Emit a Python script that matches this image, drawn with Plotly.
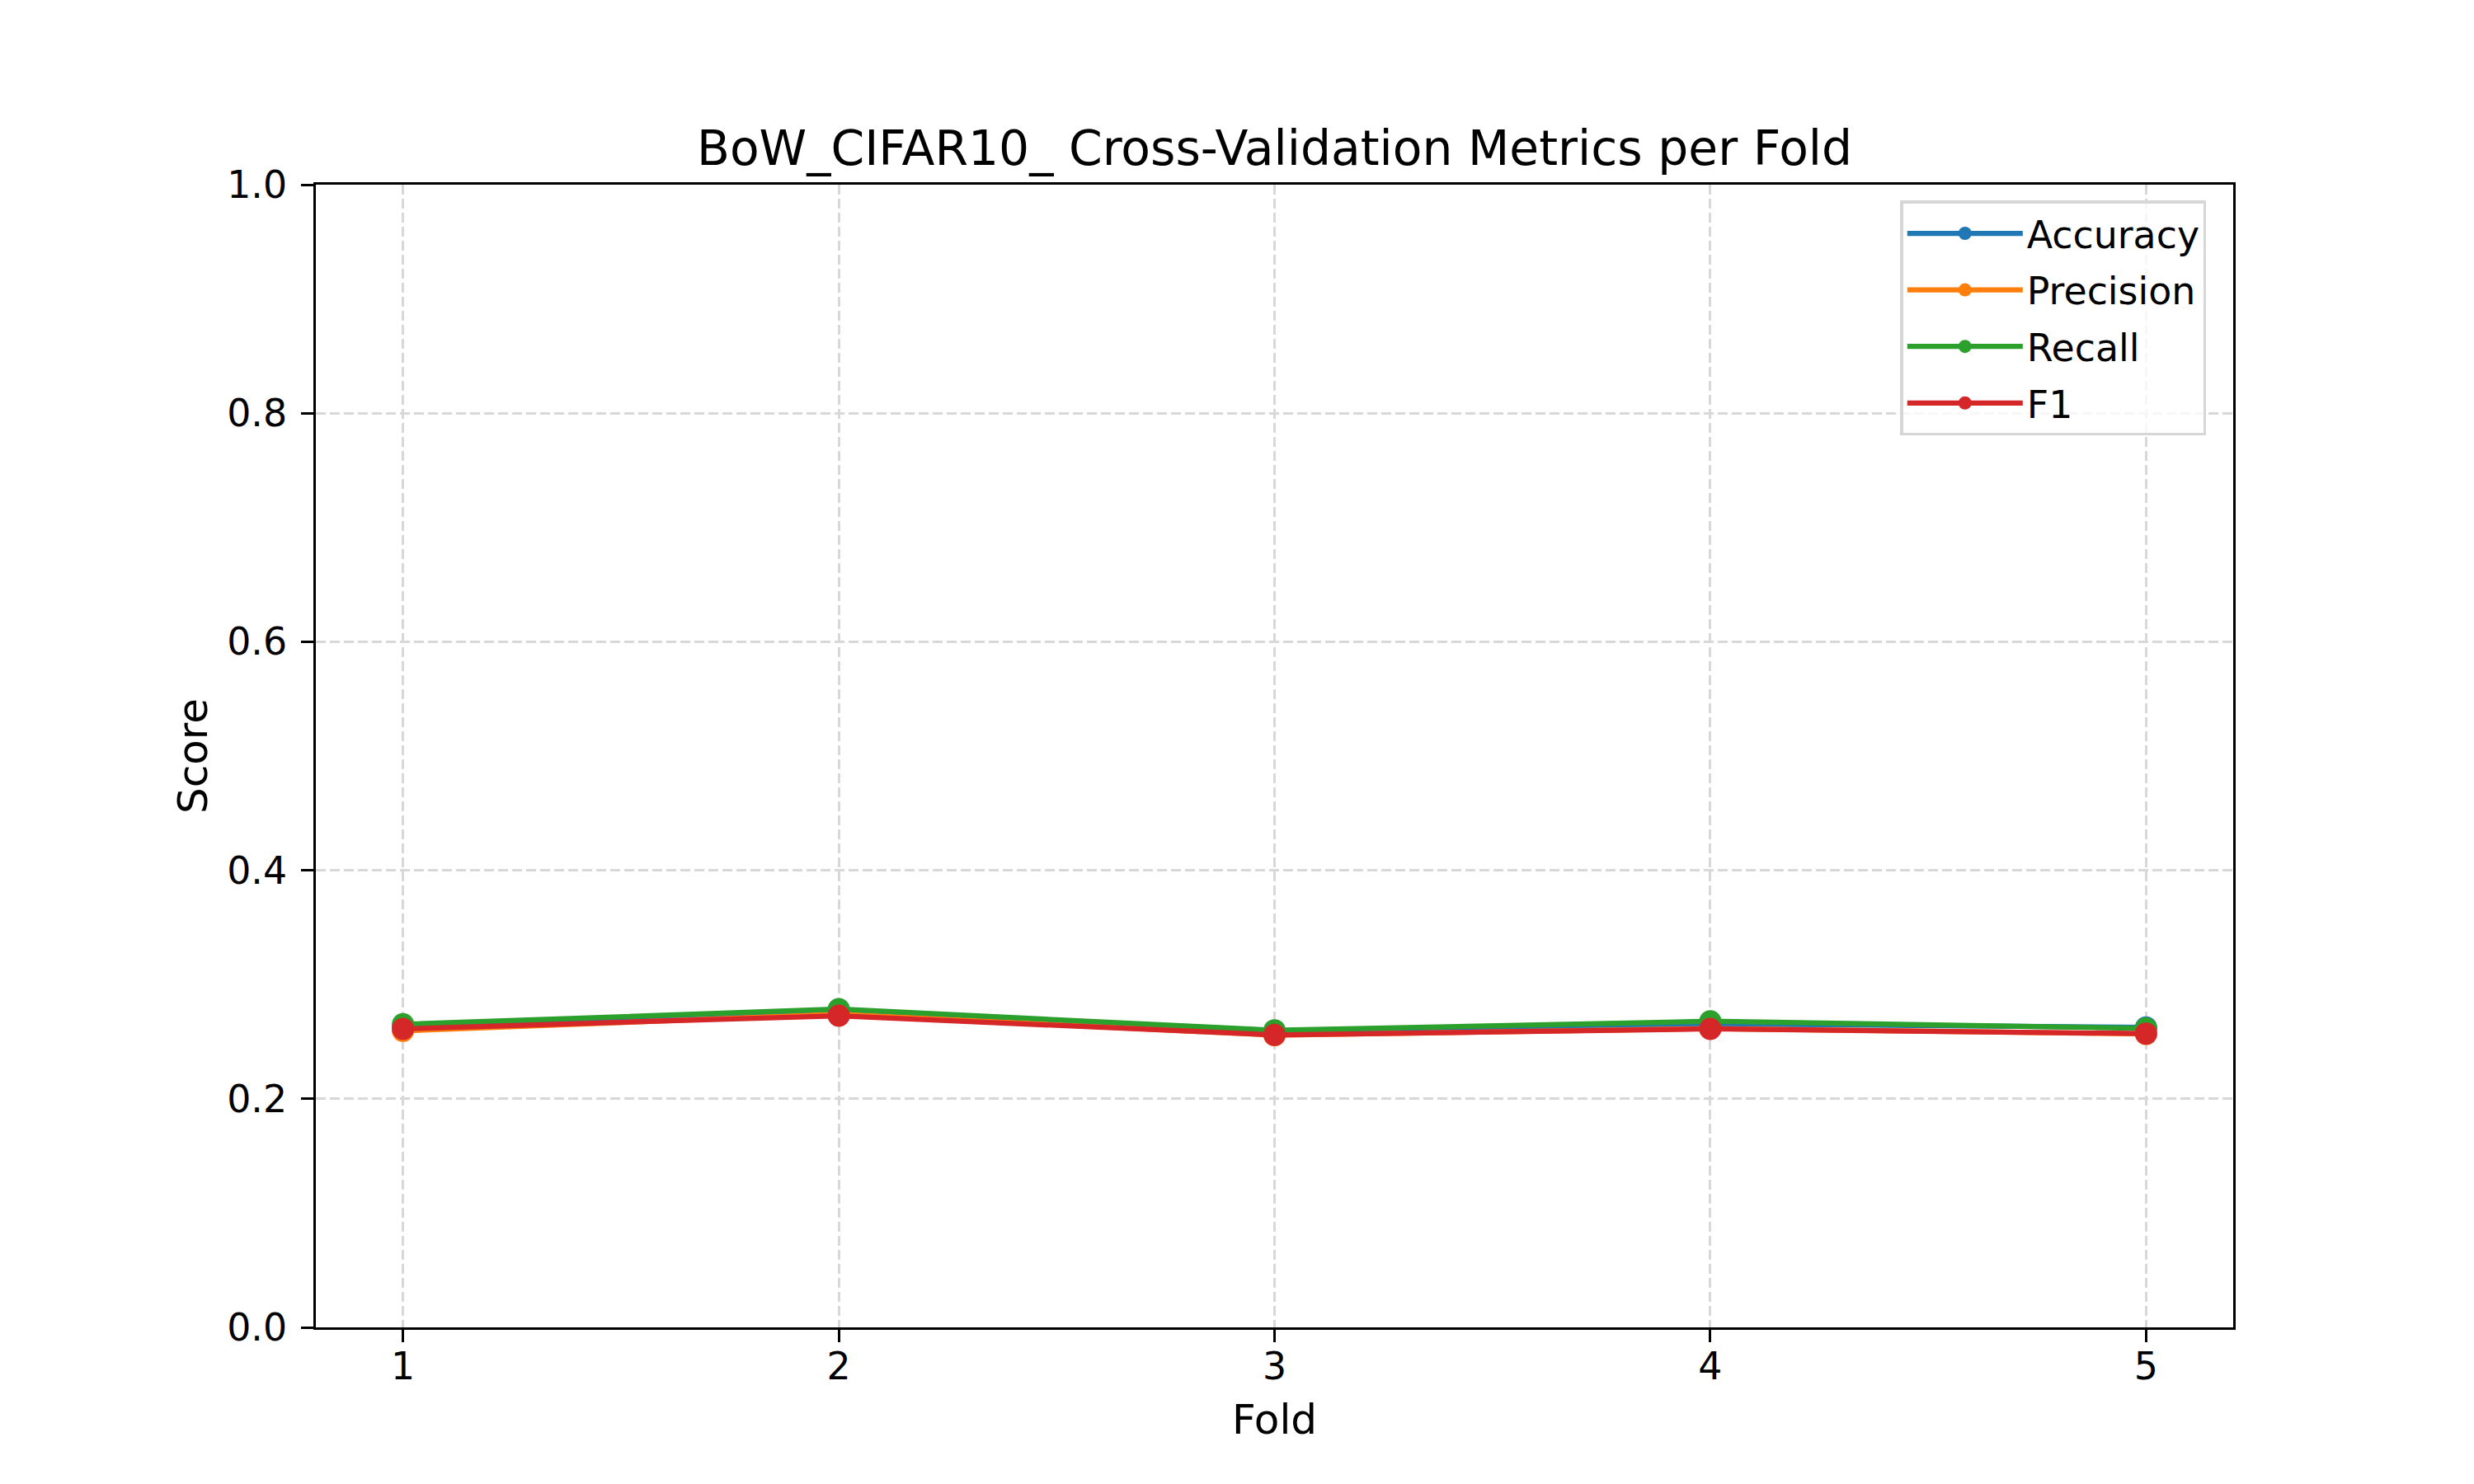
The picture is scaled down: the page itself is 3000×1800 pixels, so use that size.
import plotly.graph_objects as go

# fold scores
folds = [1, 2, 3, 4, 5]
accuracy = [0.263, 0.276, 0.258, 0.2655, 0.2625]
precision = [0.2595, 0.274, 0.2557, 0.2615, 0.2568]
recall = [0.2653, 0.2785, 0.260, 0.2679, 0.2617]
f1 = [0.2612, 0.2727, 0.2559, 0.2612, 0.2571]

metric_names = ["Accuracy", "Precision", "Recall", "F1"]
metric_colors = ["#1f77b4", "#ff7f0e", "#2ca02c", "#d62728"]

FONT = "DejaVu Sans"
PT = 300 / 72  # matplotlib points -> pixels at 300 dpi

fig = go.Figure()
for name, vals, col in zip(metric_names, [accuracy, precision, recall, f1], metric_colors):
    fig.add_trace(go.Scatter(
        x=folds, y=vals, name=name, mode="lines+markers",
        legendgroup=name,
        line=dict(color=col, width=1.5 * PT),
        marker=dict(color=col, size=27),
    ))

axis_common = dict(
    showline=True, mirror=True, linecolor="black", linewidth=0.8 * PT,
    ticks="outside", ticklen=3.5 * PT, tickwidth=0.8 * PT, tickcolor="black",
    tickfont=dict(family=FONT, size=11 * PT, color="black"),
    showgrid=True, gridcolor="#d8d8d8", gridwidth=0.8 * PT, griddash="12px,5px",
    zeroline=False,
)

fig.update_xaxes(
    range=[0.8, 5.2], tickvals=folds, ticklabelstandoff=-10,
    title=dict(text="Fold", font=dict(family=FONT, size=12 * PT, color="black"), standoff=22),
    **axis_common,
)
fig.update_yaxes(
    range=[0, 1], tick0=0, dtick=0.2, tickformat=".1f", ticklabelstandoff=8,
    title=dict(text="Score", font=dict(family=FONT, size=12 * PT, color="black"), standoff=8),
    **axis_common,
)

fig.update_layout(
    width=3000, height=1800,
    margin=dict(l=375, r=300, t=216, b=198),
    plot_bgcolor="white", paper_bgcolor="white",
    font=dict(family=FONT, color="black"),
    title=dict(
        text="BoW_CIFAR10_ Cross-Validation Metrics per Fold",
        font=dict(family=FONT, size=14 * PT, color="black"),
        x=0.5, xanchor="center", xref="paper",
        y=1, yanchor="bottom", yref="paper", pad=dict(b=24),
    ),
    legend=dict(
        x=0.986, y=0.986, xanchor="right", yanchor="top",
        bgcolor="rgba(255,255,255,0.8)", bordercolor="#d6d6d6", borderwidth=0.8 * PT,
        font=dict(family=FONT, size=11 * PT, color="black"),
        itemwidth=140, tracegroupgap=6,
    ),
)

fig.write_html("out.html")
